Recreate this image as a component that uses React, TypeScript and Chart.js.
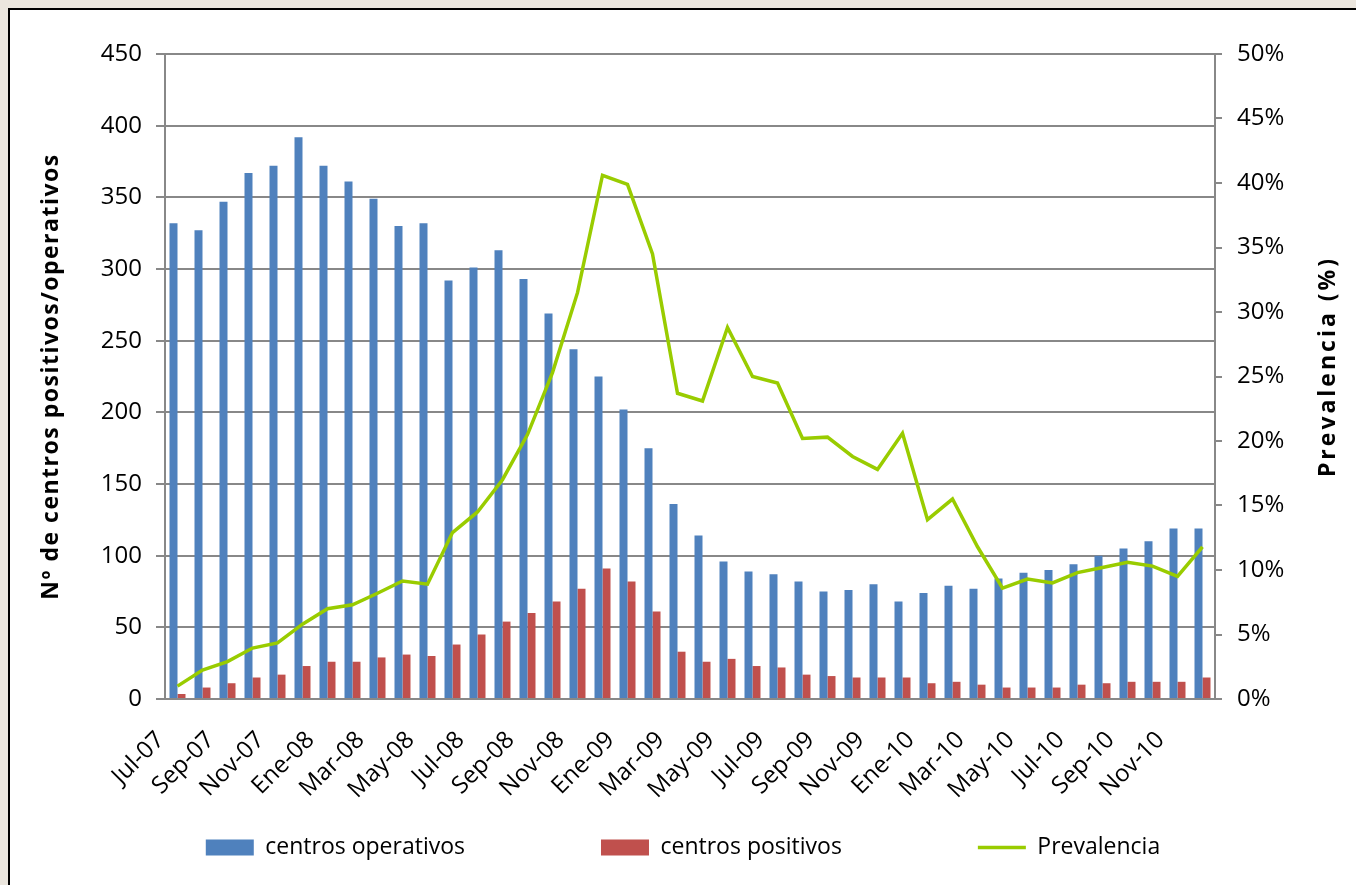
import React, { useEffect, useRef } from "react";
import { Chart, registerables } from "chart.js";

Chart.register(...registerables);

const monthLabels = [
  "Jul-07", "Ago-07", "Sep-07", "Oct-07", "Nov-07", "Dic-07",
  "Ene-08", "Feb-08", "Mar-08", "Abr-08", "May-08", "Jun-08",
  "Jul-08", "Ago-08", "Sep-08", "Oct-08", "Nov-08", "Dic-08",
  "Ene-09", "Feb-09", "Mar-09", "Abr-09", "May-09", "Jun-09",
  "Jul-09", "Ago-09", "Sep-09", "Oct-09", "Nov-09", "Dic-09",
  "Ene-10", "Feb-10", "Mar-10", "Abr-10", "May-10", "Jun-10",
  "Jul-10", "Ago-10", "Sep-10", "Oct-10", "Nov-10", "Dic-10",
];

const centrosOperativos = [
  332, 327, 347, 367, 372, 392, 372, 361, 349, 330, 332, 292,
  301, 313, 293, 269, 244, 225, 202, 175, 136, 114, 96, 89,
  87, 82, 75, 76, 80, 68, 74, 79, 77, 84, 88, 90,
  94, 100, 105, 110, 119, 119,
];

const centrosPositivos = [
  3.5, 8, 11, 15, 17, 23, 26, 26, 29, 31, 30, 38,
  45, 54, 60, 68, 77, 91, 82, 61, 33, 26, 28, 23,
  22, 17, 16, 15, 15, 15, 11, 12, 10, 8, 8, 8,
  10, 11, 12, 12, 12, 15,
];

const prevalencia = [
  1.0, 2.25, 2.9, 3.95, 4.35, 5.8, 7.0, 7.3, 8.2, 9.15, 8.9, 12.9,
  14.5, 17.0, 20.5, 25.3, 31.5, 40.6, 39.9, 34.5, 23.7, 23.1, 28.8, 25.0,
  24.5, 20.2, 20.3, 18.8, 17.8, 20.6, 13.9, 15.5, 11.8, 8.6, 9.3, 9.0,
  9.8, 10.2, 10.6, 10.3, 9.5, 11.8,
];

const seriesNames = ["centros operativos", "centros positivos", "Prevalencia"];
const leftTitle = "Nº de centros positivos/operativos";
const rightTitle = "Prevalencia (%)";

const FONT = "'Open Sans', 'Noto Sans', sans-serif";
const GRID = "#888888";

const axisTitlesPlugin = {
  id: "axisTitles",
  beforeDraw(chart: any) {
    // let the x labels extend below the (thin) x axis box
    const s = chart.scales.x;
    if (s) s._computeLabelArea = () => undefined;
  },
  afterDraw(chart: any) {
    const ctx = chart.ctx;
    const ca = chart.chartArea;
    const cy = (ca.top + ca.bottom) / 2;
    const draw = (text: string, x: number, y: number, spacing: string) => {
      ctx.save();
      ctx.translate(x, y);
      ctx.rotate(-Math.PI / 2);
      ctx.font = "bold 23px " + FONT;
      try {
        (ctx as any).letterSpacing = spacing;
      } catch (e) {}
      ctx.fillStyle = "#000";
      ctx.textAlign = "center";
      ctx.textBaseline = "middle";
      ctx.fillText(text, 0, 0);
      ctx.restore();
    };
    draw(leftTitle, chart.scales.y.left + 41, cy, "1.5px");
    draw(rightTitle, chart.scales.y1.right - 28, cy - 10, "3px");
  },
};

export default function App() {
  const ref = useRef<HTMLCanvasElement | null>(null);

  useEffect(() => {
    const canvas = ref.current;
    if (!canvas) return;
    const chart = new Chart(canvas, {
      type: "bar",
      data: {
        labels: monthLabels,
        datasets: [
          {
            type: "bar",
            label: seriesNames[0],
            data: centrosOperativos,
            backgroundColor: "#4f81bd",
            borderWidth: 0,
            yAxisID: "y",
            order: 1,
            categoryPercentage: 0.64,
            barPercentage: 1.0,
          },
          {
            type: "bar",
            label: seriesNames[1],
            data: centrosPositivos,
            backgroundColor: "#c0504d",
            borderWidth: 0,
            yAxisID: "y",
            order: 1,
            categoryPercentage: 0.64,
            barPercentage: 1.0,
          },
          {
            type: "line",
            label: seriesNames[2],
            data: prevalencia,
            borderColor: "#99cc00",
            backgroundColor: "#99cc00",
            borderWidth: 3.5,
            pointRadius: 0,
            tension: 0,
            yAxisID: "y1",
            order: 0,
          },
        ] as any,
      },
      plugins: [axisTitlesPlugin],
      options: {
        responsive: false,
        animation: false,
        devicePixelRatio: 1,
        layout: { padding: { top: 44, left: 0, right: 0, bottom: 16 } },
        plugins: {
          tooltip: { enabled: false },
          legend: {
            position: "bottom",
            labels: {
              usePointStyle: true,
              pointStyleWidth: 48,
              boxHeight: 16,
              padding: 136,
              color: "#000",
              font: { family: FONT, size: 23 },
              sort: (a: any, b: any) => a.datasetIndex - b.datasetIndex,
              generateLabels: (chart: any) => {
                const items = (Chart.defaults as any).plugins.legend.labels.generateLabels(chart);
                return items.map((it: any) => ({
                  ...it,
                  pointStyle: it.datasetIndex === 2 ? "line" : "rect",
                }));
              },
            },
          },
        },
        scales: {
          x: {
            type: "category",
            offset: true,
            grid: { display: false, drawTicks: false },
            border: { display: true, color: GRID, width: 2 },
            ticks: {
              autoSkip: false,
              minRotation: 45,
              maxRotation: 45,
              padding: 27,
              labelOffset: -17,
              color: "#000",
              font: { family: FONT, size: 24 },
              callback: (_v: any, i: number) => (i % 2 === 0 ? monthLabels[i] : ""),
            },
            afterFit: (s: any) => {
              s.height = 1;
            },
          },
          y: {
            position: "left",
            min: 0,
            max: 450,
            ticks: {
              stepSize: 50,
              padding: 14,
              color: "#000",
              font: { family: FONT, size: 24 },
            },
            grid: {
              color: GRID,
              lineWidth: 2,
              drawTicks: true,
              tickLength: 9,
              tickColor: GRID,
            },
            border: { color: GRID, width: 2 },
            afterFit: (s: any) => {
              s.width = 155;
            },
          },
          y1: {
            position: "right",
            min: 0,
            max: 50,
            ticks: {
              stepSize: 5,
              padding: 15,
              color: "#000",
              font: { family: FONT, size: 24 },
              callback: (v: any) => v + "%",
            },
            grid: {
              drawOnChartArea: false,
              drawTicks: true,
              tickLength: 7,
              color: GRID,
              lineWidth: 2,
            },
            border: { color: GRID, width: 2 },
            afterFit: (s: any) => {
              s.width = 141;
            },
          },
        },
      } as any,
    });
    return () => chart.destroy();
  }, []);

  return (
    <div
      style={{
        position: "absolute",
        left: 0,
        top: 0,
        width: 1356,
        height: 885,
        overflow: "hidden",
        background: "#ebe6de",
      }}
    >
      <div
        style={{
          position: "absolute",
          left: 8,
          top: 8,
          width: 1360,
          height: 900,
          border: "2px solid #000",
          background: "#fff",
        }}
      >
        <canvas
          ref={ref}
          width={1346}
          height={875}
          style={{ position: "absolute", left: 0, top: 0, width: 1346, height: 875 }}
        />
      </div>
    </div>
  );
}
